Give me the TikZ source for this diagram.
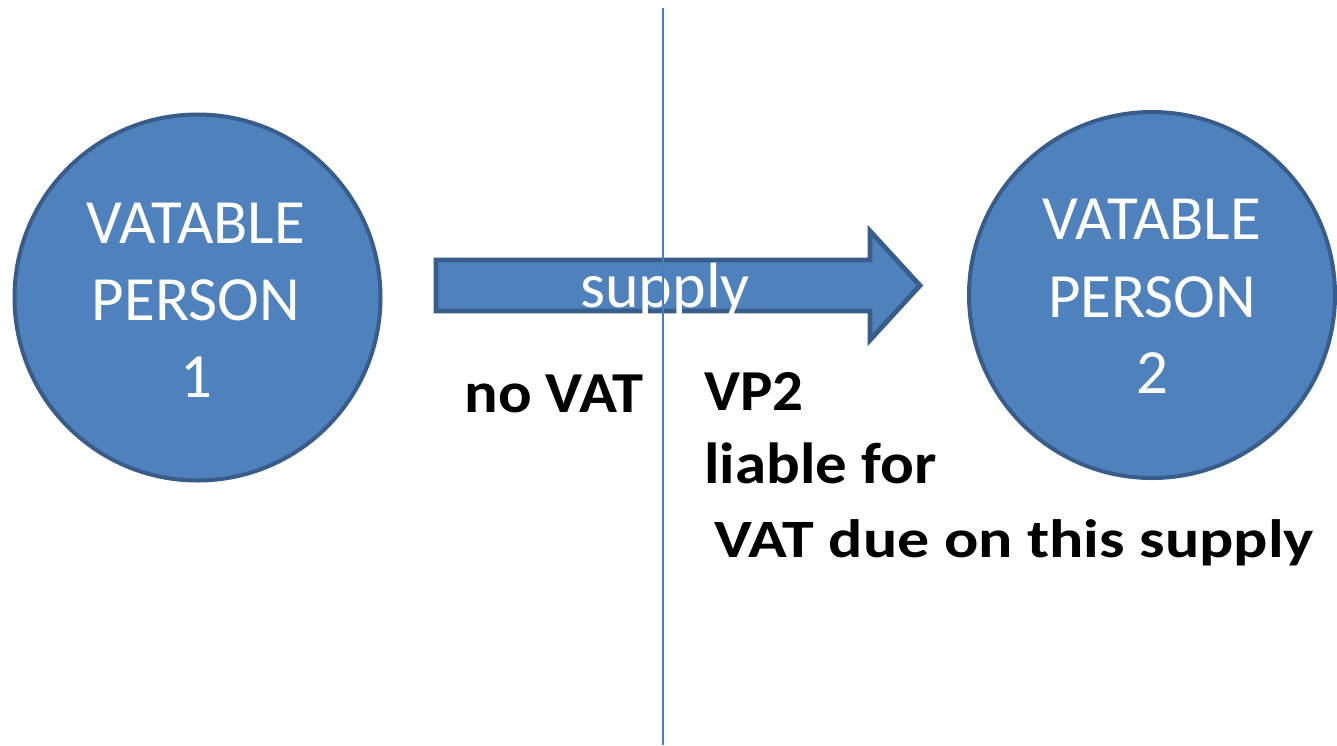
\documentclass[tikz,border=0pt]{standalone}
\usepackage{fontspec}
\setmainfont{Carlito}
\definecolor{pfill}{HTML}{4F81BD}
\definecolor{pborder}{HTML}{385D8A}
\definecolor{vline}{HTML}{4A7EBB}
\begin{document}
\begin{tikzpicture}[x=0.5pt,y=-0.5pt,
  person/.style={circle, draw=pborder, fill=pfill, line width=2pt, minimum size=183pt, inner sep=0pt},
  ptext/.style={text=white, font=\fontsize{31.5}{36}\selectfont, anchor=base, inner sep=0pt},
  arrowshape/.style={draw=pborder, fill=pfill, line width=2.4pt, line join=miter},
  blacklabel/.style={text=black, anchor=base west, inner sep=0pt, font=\bfseries\fontsize{29}{34}\selectfont},
  divider/.style={draw=vline, line width=1pt}]
\useasboundingbox (0,0) rectangle (1337,745);
% persons
\node[person] (p1) at (197.5,297.5) {};
\node[person] (p2) at (1152,295) {};
\node[ptext] (p1a) at (196,243) {VATABLE};
\node[ptext] (p1b) at (196,320) {PERSON};
\node[ptext] (p1c) at (196,397) {1};
\node[ptext] (p2a) at (1152,239) {VATABLE};
\node[ptext] (p2b) at (1152,317) {PERSON};
\node[ptext] (p2c) at (1152,393) {2};
% supply arrow
\path[arrowshape] (436,260) -- (870,260) -- (870,231) -- (920,285.5) -- (870,340) -- (870,311) -- (436,311) -- cycle;
\node[text=white, font=\fontsize{32}{38}\selectfont, anchor=base, inner sep=0pt] (sup) at (665,307) {supply};
% labels
\node[blacklabel] (novat) at (464,412) {\scalebox{1.08}[1]{no VAT}};
\node[blacklabel] (vp2) at (704,410) {\scalebox{1.05}[1]{VP2}};
\node[blacklabel] (liab) at (704,483) {\scalebox{1.085}[1]{liable for}};
\node[blacklabel, font=\bfseries\fontsize{27}{32}\selectfont] (due) at (714,557) {\scalebox{1.185}[1]{VAT due on this supply}};
% divider
\coordinate (dtop) at (662.7,8);
\coordinate (dbot) at (662.7,745);
\draw[divider] (dtop) -- (dbot);
\end{tikzpicture}
\end{document}
